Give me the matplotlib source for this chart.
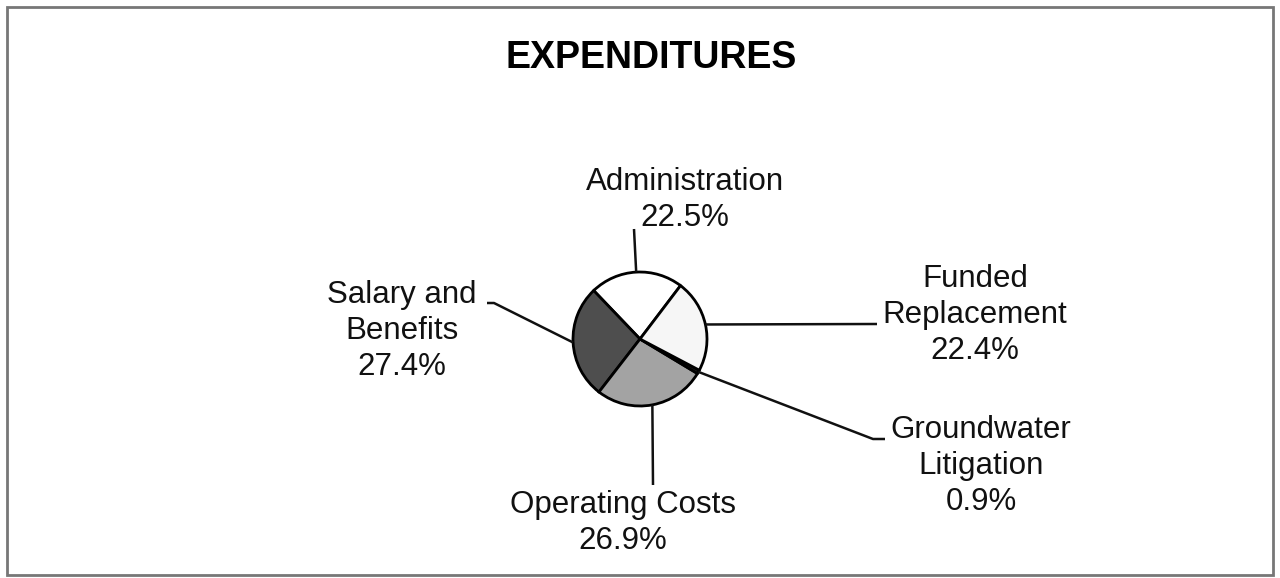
import numpy as np
import matplotlib
matplotlib.use("Agg")
import matplotlib.pyplot as plt
from matplotlib.patches import Rectangle

W, H = 1280, 578

# data
labels = ["Administration", "Salary and\nBenefits", "Operating Costs",
          "Groundwater\nLitigation", "Funded\nReplacement"]
shares = [22.5, 27.4, 26.9, 0.9, 22.4]
colors = ["#ffffff", "#4e4e4e", "#a3a3a3", "#1e1e1e", "#f6f6f6"]

# label block centres and leader end points, in pixels (y from top)
text_pos = [(685, 200), (402, 331), (623, 523), (981, 466), (975, 315)]
leader_end = [[(634, 229)], [(494, 303), (487, 303)], [(653, 485)],
              [(873, 439), (885, 439)], [(877, 324)]]

plt.rcParams['font.family'] = ['Liberation Sans', 'DejaVu Sans']

fig = plt.figure(figsize=(W / 100, H / 100), dpi=100)
ax = fig.add_axes([0, 0, 1, 1])

def py(y):
    return H - y

# frame
ax.add_patch(Rectangle((7, py(575)), 1266, 568, fill=False, edgecolor="#777777", lw=2))

ax.text(651, py(58), "EXPENDITURES", ha='center', va='center',
        fontsize=27, fontweight='bold')

cx, cy, r = 640, py(339), 67
wedges, _ = ax.pie(shares, colors=colors, startangle=52.8, counterclock=True,
                   center=(cx, cy), radius=r,
                   wedgeprops=dict(edgecolor='black', linewidth=2))
ax.set_xlim(0, W)
ax.set_ylim(0, H)
ax.set_aspect('equal')
ax.axis('off')

for w, lab, val, tp, ends in zip(wedges, labels, shares, text_pos, leader_end):
    mid = np.deg2rad((w.theta1 + w.theta2) / 2)
    xs = [cx + r * np.cos(mid)] + [e[0] for e in ends]
    ys = [cy + r * np.sin(mid)] + [py(e[1]) for e in ends]
    ax.plot(xs, ys, color='#111111', lw=1.8, solid_capstyle='butt')
    ax.text(tp[0], py(tp[1]), f"{lab}\n{val}%", ha='center', va='center',
            multialignment='center', fontsize=22.5, linespacing=1.27, color='#111111')

fig.savefig("out.png", dpi=100)
